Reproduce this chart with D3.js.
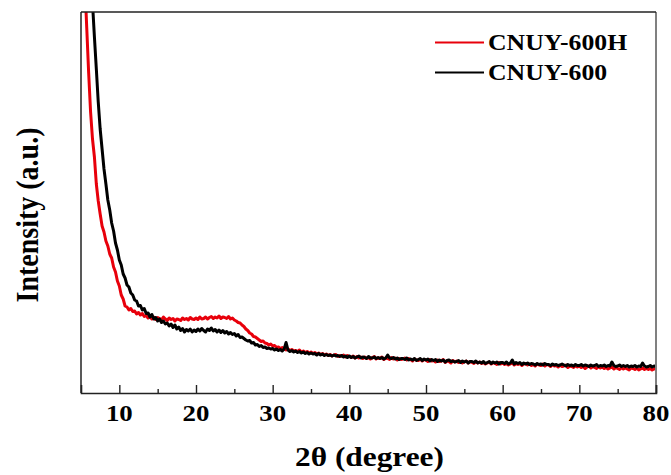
<!DOCTYPE html>
<html>
<head>
<meta charset="utf-8">
<script src="https://cdn.jsdelivr.net/npm/d3@7"></script>
<style>
  html, body { margin: 0; padding: 0; background: #fff; }
  svg { display: block; }
  text { font-family: "Liberation Serif", "Times New Roman", serif; font-weight: bold; fill: #000; }
</style>
</head>
<body>
<script>
// XRD patterns, 2θ from 5.5° to 80° in 0.25° steps (intensity in a.u.)
const angleStart = 5.5, angleEnd = 80, angleStep = 0.25;

const seriesNames = ["CNUY-600H", "CNUY-600"];
const seriesColors = ["#e8000b", "#000000"];

const cnuy600H = [
  4100, 3650,
  3200, 2810, 2540, 2360,   2090, 1920, 1790, 1670,   1610, 1520, 1470, 1390,   1350, 1260, 1210, 1120,
  1070, 980, 940, 870,      860, 830, 845, 815,       820, 790, 805, 780,       795, 765, 775, 750,
  765, 740, 760, 735,       755, 745, 730, 760,       740, 725, 750, 735,       745, 720, 740, 735,
  725, 750, 735, 745,       730, 755, 740, 735,       750, 735, 760, 740,       745, 760, 740, 755,
  765, 745, 760, 750,       770, 745, 760, 755,       745, 765, 740, 750,       730, 720, 705, 700,
  680, 665, 640, 625,       600, 590, 565, 560,       545, 530, 515, 520,       500, 495, 480, 490,
  470, 475, 455, 460,       445, 455, 440, 430,       440, 425, 435, 420,       425, 415, 430, 410,
  420, 405, 415, 400,       410, 395, 405, 390,       400, 385, 395, 380,       390, 375, 385, 370,
  380, 385, 365, 375,       370, 380, 360, 375,       365, 355, 370, 350,       365, 350, 360, 345,
  360, 345, 355, 340,       355, 365, 340, 350,       345, 360, 335, 350,       345, 335, 355, 340,
  350, 330, 345, 335,       340, 350, 330, 345,       335, 320, 340, 330,       325, 340, 320, 335,
  330, 315, 335, 320,       325, 310, 330, 315,       320, 335, 305, 320,       315, 300, 325, 310,
  320, 305, 315, 300,       310, 320, 300, 315,       305, 295, 315, 300,       310, 295, 305, 290,
  300, 310, 290, 305,       295, 285, 305, 290,       300, 285, 295, 280,       290, 300, 280, 295,
  285, 295, 275, 290,       295, 280, 290, 275,       285, 270, 290, 280,       275, 290, 270, 285,
  280, 265, 285, 270,       275, 260, 280, 265,       270, 280, 255, 270,       265, 255, 275, 260,
  270, 255, 265, 245,       260, 270, 250, 265,       255, 245, 265, 250,       260, 245, 255, 240,
  250, 260, 240, 255,       245, 235, 255, 240,       250, 240, 230, 250,       245, 235, 250, 230,
  240, 250, 235, 245,       235, 245, 230, 240,
  245
];

const cnuy600 = [
  5400, 5000,
  4600, 4250, 3900, 3560,   3240, 2910, 2640, 2440,   2240, 2090, 1930, 1830,   1700, 1620, 1500, 1430,
  1330, 1280, 1190, 1150,   1080, 1060, 1000, 980,    930, 920, 870, 875,       830, 845, 795, 800,
  760, 785, 740, 755,       720, 740, 705, 720,       690, 700, 670, 690,       655, 680, 640, 660,
  625, 645, 610, 635,       620, 640, 610, 630,       615, 640, 620, 645,       625, 610, 640, 625,
  650, 620, 635, 610,       630, 605, 625, 600,       615, 590, 605, 585,       595, 570, 585, 555,
  560, 545, 530, 520,       525, 500, 505, 480,       485, 465, 475, 455,       460, 445, 450, 440,
  445, 430, 440, 425,       435, 420, 440, 505,       430, 415, 425, 410,       420, 405, 415, 400,
  410, 395, 405, 390,       400, 390, 395, 380,       395, 380, 390, 375,       385, 375, 380, 370,
  380, 370, 375, 365,       375, 360, 370, 355,       370, 355, 365, 350,       360, 370, 350, 360,
  355, 345, 365, 350,       350, 360, 345, 355,       345, 355, 340, 350,       380, 350, 345, 355,
  340, 350, 335, 345,       345, 335, 350, 330,       340, 330, 345, 325,       335, 345, 325, 340,
  330, 340, 320, 335,       325, 335, 315, 330,       320, 330, 310, 325,       330, 315, 320, 310,
  315, 325, 305, 320,       310, 320, 300, 315,       315, 305, 320, 300,       310, 300, 315, 295,
  305, 315, 295, 310,       300, 310, 290, 305,       305, 295, 310, 290,       300, 330, 290, 305,
  295, 305, 285, 300,       290, 300, 285, 295,       290, 280, 295, 285,       290, 280, 295, 285,
  285, 275, 290, 280,       285, 275, 280, 290,       280, 270, 285, 275,       280, 270, 285, 275,
  275, 285, 270, 280,       275, 265, 280, 270,       275, 285, 265, 275,       270, 280, 265, 275,
  270, 310, 275, 265,       270, 280, 265, 275,       265, 275, 260, 270,       265, 275, 260, 270,
  265, 300, 270, 260,       265, 275, 260, 270,
  265
];

const xTickMajor = [10, 20, 30, 40, 50, 60, 70, 80];
const xTickMinor = [15, 25, 35, 45, 55, 65, 75];
const xDomain = [5, 80];
const yDomain = [0, 3810];

const W = 671, H = 475;
const plot = { left: 81, right: 656, top: 12, bottom: 393 };
const stretch = 1.12; // horizontal text scaling

const svg = d3.select("body").append("svg").attr("width", W).attr("height", H);

const x = d3.scaleLinear().domain(xDomain).range([plot.left, plot.right]);
const y = d3.scaleLinear().domain(yDomain).range([plot.bottom, plot.top]);

const angles = d3.range(cnuy600H.length).map(i => angleStart + i * angleStep);

svg.append("defs").append("clipPath").attr("id", "plot-clip")
  .append("rect")
  .attr("x", plot.left).attr("y", plot.top)
  .attr("width", plot.right - plot.left).attr("height", plot.bottom - plot.top);

const line = d3.line().x(d => x(d[0])).y(d => y(d[1]));

const curves = svg.append("g").attr("clip-path", "url(#plot-clip)");
[cnuy600H, cnuy600].forEach((vals, k) => {
  curves.append("path")
    .datum(angles.map((a, i) => [a, vals[i]]))
    .attr("d", line)
    .attr("fill", "none")
    .attr("stroke", seriesColors[k])
    .attr("stroke-width", 3)
    .attr("stroke-linejoin", "round");
});

// frame
svg.append("line").attr("x1", plot.right).attr("x2", plot.right)
  .attr("y1", plot.top).attr("y2", plot.bottom)
  .attr("stroke", "#808080").attr("stroke-width", 2);
svg.append("line").attr("x1", plot.left).attr("x2", plot.right)
  .attr("y1", plot.top).attr("y2", plot.top)
  .attr("stroke", "#222").attr("stroke-width", 1.3);
svg.append("line").attr("x1", plot.left).attr("x2", plot.left)
  .attr("y1", plot.top).attr("y2", plot.bottom)
  .attr("stroke", "#222").attr("stroke-width", 1.5);

// bottom axis with inward ticks
const xAxis = d3.axisBottom(x).tickValues(xTickMajor).tickSize(-8).tickFormat("");
const axisG = svg.append("g").attr("transform", `translate(0,${plot.bottom})`).call(xAxis);
axisG.select(".domain").attr("stroke", "#222").attr("stroke-width", 1.6);
axisG.selectAll(".tick line").attr("stroke", "#222").attr("stroke-width", 1.4);

const minorAxis = d3.axisBottom(x).tickValues(xTickMinor).tickSize(-4).tickFormat("");
const minorG = svg.append("g").attr("transform", `translate(0,${plot.bottom})`).call(minorAxis);
minorG.select(".domain").remove();
minorG.selectAll(".tick line").attr("stroke", "#222").attr("stroke-width", 1.4);

svg.append("g").selectAll("text").data(xTickMajor).join("text")
  .attr("transform", d => `translate(${x(d)},421) scale(${stretch},1)`)
  .attr("text-anchor", "middle")
  .attr("font-size", 24)
  .text(d => d);

// axis titles
svg.append("text")
  .attr("transform", `translate(${(plot.left + plot.right) / 2 + 1},466) scale(${stretch},1)`)
  .attr("text-anchor", "middle")
  .attr("font-size", 28)
  .text("2θ (degree)");

svg.append("text")
  .attr("transform", `translate(38,215) scale(${stretch},1) rotate(-90)`)
  .attr("text-anchor", "middle")
  .attr("font-size", 28)
  .text("Intensity (a.u.)");

// legend
const legend = svg.append("g");
seriesNames.forEach((name, k) => {
  const ly = 42.5 + k * 30;
  legend.append("line")
    .attr("x1", 435).attr("x2", 484)
    .attr("y1", ly).attr("y2", ly)
    .attr("stroke", seriesColors[k]).attr("stroke-width", 2.2);
  legend.append("text")
    .attr("transform", `translate(488,${ly + 7}) scale(${stretch},1)`)
    .attr("font-size", 23)
    .text(name);
});
</script>
</body>
</html>
